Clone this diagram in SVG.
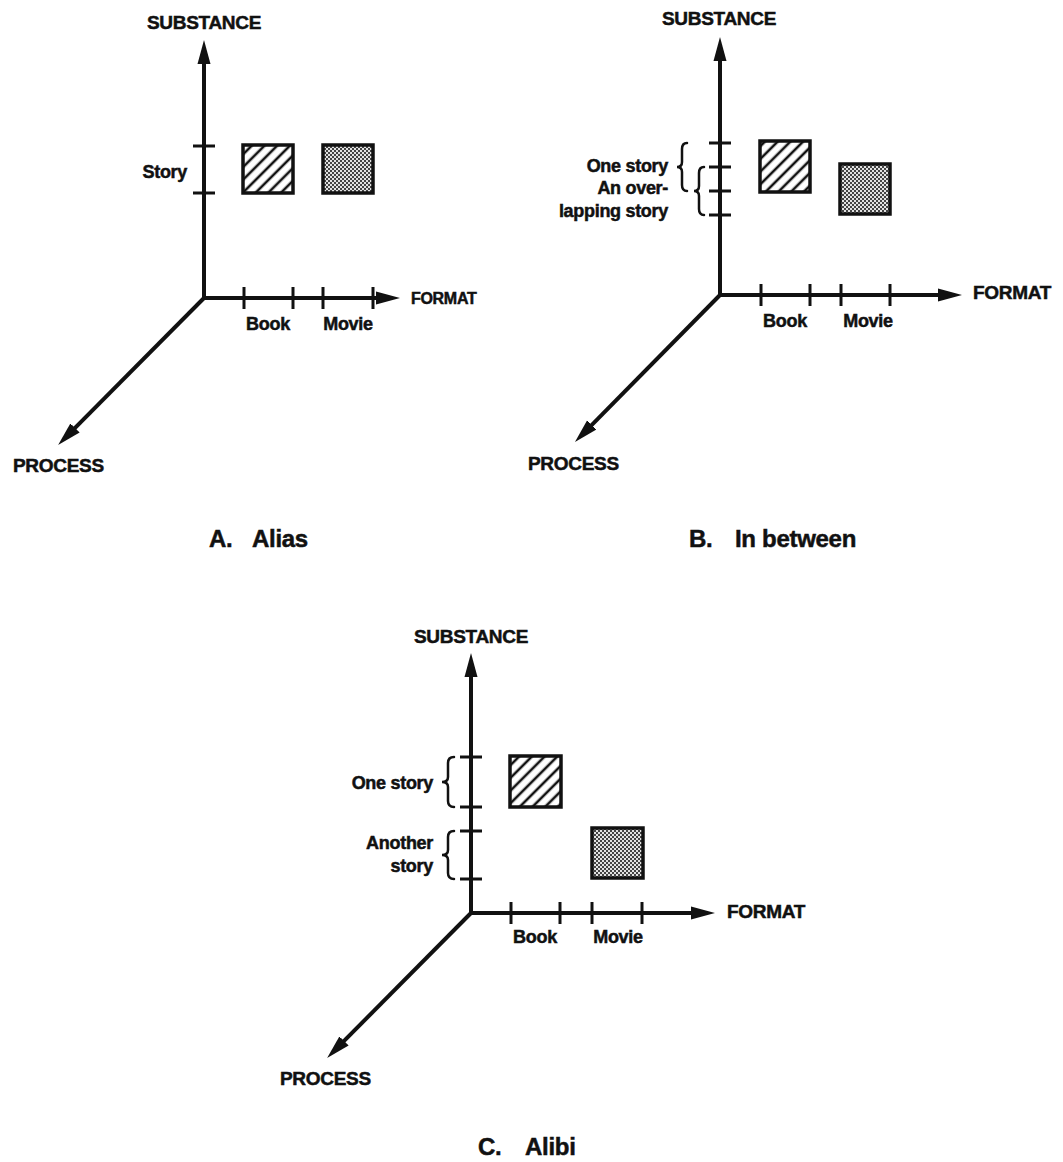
<svg xmlns="http://www.w3.org/2000/svg" width="1063" height="1162" viewBox="0 0 1063 1162">
  <style>
    text { font-family: "Liberation Sans", Arial, sans-serif; font-weight: bold; fill: #111; stroke: #111; stroke-width: 0.5; letter-spacing: -0.3px; }
    .axis { stroke: #111; stroke-width: 4; fill: none; marker-end: url(#head); }
    .tick { stroke: #111; stroke-width: 3; fill: none; }
    .brace { stroke: #111; stroke-width: 2.5; fill: none; stroke-linecap: round; }
    .ax { font-size: 19px; }
    .lbl { font-size: 18px; }
    .cap { font-size: 24px; }
    .mid { text-anchor: middle; }
    .end { text-anchor: end; }
    .hatch { fill: url(#diag); stroke: #111; stroke-width: 3.5; }
    .stipple { fill: url(#dots); stroke: #111; stroke-width: 3.5; }
  </style>
  <defs>
    <marker id="head" viewBox="0 -7 24 14" refX="2" refY="0" markerWidth="24" markerHeight="14" markerUnits="userSpaceOnUse" orient="auto">
      <path d="M0,-6.5 L24,0 L0,6.5 Z" fill="#111"/>
    </marker>
    <pattern id="diag" width="9" height="9" patternUnits="userSpaceOnUse" patternTransform="rotate(45)">
      <rect width="9" height="9" fill="#fff"/>
      <line x1="2" y1="0" x2="2" y2="9" stroke="#111" stroke-width="2.6"/>
    </pattern>
    <pattern id="dots" width="4" height="4" patternUnits="userSpaceOnUse">
      <rect width="4" height="4" fill="#e2e2e2"/>
      <rect x="0" y="0" width="2" height="2" fill="#444"/>
      <rect x="2" y="2" width="2" height="2" fill="#444"/>
    </pattern>
  </defs>
  <rect width="1063" height="1162" fill="#fff"/>

  <!-- Panel A: same story, two formats -->
  <g id="panel-a">
    <g id="a-connectors">
      <line class="axis" x1="204" y1="298" x2="204" y2="62"/>
      <line class="axis" x1="202" y1="298" x2="378" y2="298"/>
      <line class="axis" x1="205" y1="297" x2="73.6" y2="429.4"/>
      <line class="tick" x1="193" y1="146" x2="215" y2="146"/>
      <line class="tick" x1="193" y1="193" x2="215" y2="193"/>
      <line class="tick" x1="244" y1="287" x2="244" y2="309"/>
      <line class="tick" x1="293" y1="287" x2="293" y2="309"/>
      <line class="tick" x1="323" y1="287" x2="323" y2="309"/>
      <line class="tick" x1="373" y1="287" x2="373" y2="309"/>
    </g>
    <g id="a-book"><rect class="hatch" x="243" y="145" width="50" height="48"/></g>
    <g id="a-movie"><rect class="stipple" x="323" y="145" width="50" height="48"/></g>
    <text class="ax mid" x="204" y="29">SUBSTANCE</text>
    <text class="ax" x="411" y="304" style="font-size:16px">FORMAT</text>
    <text class="ax" x="13" y="472">PROCESS</text>
    <text class="lbl end" x="187" y="178">Story</text>
    <text class="lbl mid" x="268" y="330">Book</text>
    <text class="lbl mid" x="348" y="330">Movie</text>
    <text class="cap" x="209" y="547">A.</text>
    <text class="cap" x="252" y="547">Alias</text>
  </g>

  <!-- Panel B: overlapping stories -->
  <g id="panel-b">
    <g id="b-connectors">
      <line class="axis" x1="720" y1="295" x2="720" y2="59"/>
      <line class="axis" x1="718" y1="295" x2="940" y2="295"/>
      <line class="axis" x1="721" y1="294" x2="590.4" y2="426.3"/>
      <line class="tick" x1="709" y1="143" x2="731" y2="143"/>
      <line class="tick" x1="709" y1="167" x2="731" y2="167"/>
      <line class="tick" x1="709" y1="191" x2="731" y2="191"/>
      <line class="tick" x1="709" y1="215" x2="731" y2="215"/>
      <line class="tick" x1="761" y1="284" x2="761" y2="306"/>
      <line class="tick" x1="810" y1="284" x2="810" y2="306"/>
      <line class="tick" x1="841" y1="284" x2="841" y2="306"/>
      <line class="tick" x1="890" y1="284" x2="890" y2="306"/>
      <path class="brace" d="M687,143 Q682,143 682,149 L682,162 Q682,167 677,167 Q682,167 682,172 L682,185 Q682,191 687,191"/>
      <path class="brace" d="M704,167 Q699,167 699,173 L699,186 Q699,191 694,191 Q699,191 699,196 L699,209 Q699,215 704,215"/>
    </g>
    <g id="b-book"><rect class="hatch" x="760" y="141" width="50" height="51"/></g>
    <g id="b-movie"><rect class="stipple" x="840" y="164" width="50" height="50"/></g>
    <text class="ax mid" x="719" y="25">SUBSTANCE</text>
    <text class="ax" x="973" y="299">FORMAT</text>
    <text class="ax" x="528" y="470">PROCESS</text>
    <text class="lbl end" x="668" y="172">One story</text>
    <text class="lbl end" x="668" y="194">An over-</text>
    <text class="lbl end" x="668" y="217">lapping story</text>
    <text class="lbl mid" x="785" y="327">Book</text>
    <text class="lbl mid" x="868" y="327">Movie</text>
    <text class="cap" x="689" y="547">B.</text>
    <text class="cap" x="735" y="547">In between</text>
  </g>

  <!-- Panel C: separate stories -->
  <g id="panel-c">
    <g id="c-connectors">
      <line class="axis" x1="471" y1="913" x2="471" y2="675"/>
      <line class="axis" x1="469" y1="913" x2="693" y2="913"/>
      <line class="axis" x1="472" y1="912" x2="342.6" y2="1042.4"/>
      <line class="tick" x1="460" y1="757" x2="482" y2="757"/>
      <line class="tick" x1="460" y1="807" x2="482" y2="807"/>
      <line class="tick" x1="460" y1="831" x2="482" y2="831"/>
      <line class="tick" x1="460" y1="879" x2="482" y2="879"/>
      <line class="tick" x1="511" y1="902" x2="511" y2="924"/>
      <line class="tick" x1="560" y1="902" x2="560" y2="924"/>
      <line class="tick" x1="592" y1="902" x2="592" y2="924"/>
      <line class="tick" x1="642" y1="902" x2="642" y2="924"/>
      <path class="brace" d="M454,757 Q448,757 448,763 L448,777 Q448,782 442,782 Q448,782 448,787 L448,801 Q448,807 454,807"/>
      <path class="brace" d="M454,831 Q448,831 448,837 L448,850 Q448,855 442,855 Q448,855 448,860 L448,873 Q448,879 454,879"/>
    </g>
    <g id="c-book"><rect class="hatch" x="510" y="756" width="51" height="51"/></g>
    <g id="c-movie"><rect class="stipple" x="592" y="828" width="51" height="50"/></g>
    <text class="ax mid" x="471" y="643">SUBSTANCE</text>
    <text class="ax" x="727" y="918">FORMAT</text>
    <text class="ax" x="280" y="1085">PROCESS</text>
    <text class="lbl end" x="433" y="789">One story</text>
    <text class="lbl end" x="433" y="849">Another</text>
    <text class="lbl end" x="433" y="872">story</text>
    <text class="lbl mid" x="535" y="943">Book</text>
    <text class="lbl mid" x="618" y="943">Movie</text>
    <text class="cap" x="478" y="1155">C.</text>
    <text class="cap" x="525" y="1155">Alibi</text>
  </g>
</svg>
